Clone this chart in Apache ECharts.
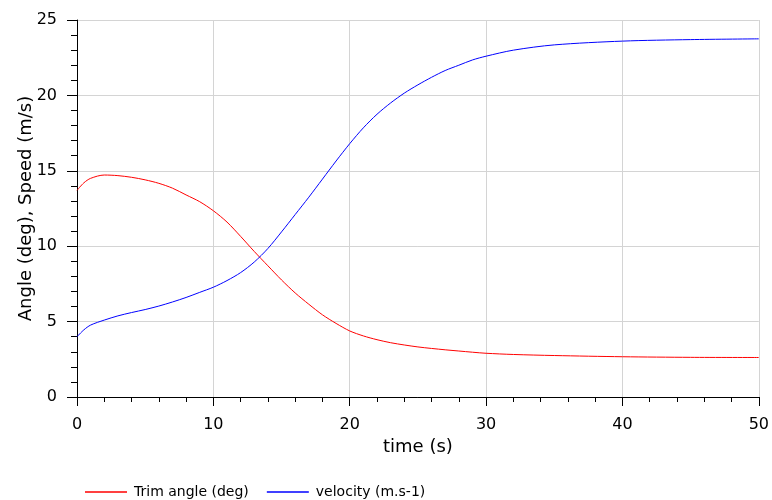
<!DOCTYPE html>
<html>
<head>
<meta charset="utf-8">
<script src="https://cdn.jsdelivr.net/npm/echarts@6/dist/echarts.min.js"></script>
<style>
  html, body { margin: 0; padding: 0; background: #fff; }
  #main { width: 772px; height: 500px; }
</style>
</head>
<body>
<div id="main"></div>
<script>
// time axis (s)
var time = [0, 0.5, 1, 2, 3, 4, 5, 6, 7, 8, 9, 10, 11, 12, 13, 14, 15, 16, 17, 18, 19, 20,
  21, 22, 23, 24, 25, 26, 27, 28, 29, 30, 32, 35, 40, 45, 50];
// Trim angle (deg)
var trimAngle = [13.7, 14.2, 14.5, 14.72, 14.68, 14.57, 14.4, 14.17, 13.85, 13.4, 12.95, 12.35,
  11.6, 10.65, 9.65, 8.7, 7.76, 6.9, 6.15, 5.45, 4.88, 4.38, 4.05, 3.8, 3.6, 3.45, 3.32,
  3.22, 3.13, 3.05, 2.97, 2.9, 2.82, 2.75, 2.67, 2.63, 2.62];
// velocity (m.s-1)
var velocity = [4.0, 4.45, 4.77, 5.1, 5.38, 5.6, 5.8, 6.03, 6.3, 6.6, 6.94, 7.28, 7.72, 8.25,
  8.95, 9.85, 10.95, 12.1, 13.25, 14.45, 15.65, 16.8, 17.85, 18.75, 19.5, 20.15, 20.7,
  21.2, 21.65, 22.0, 22.35, 22.6, 23.0, 23.35, 23.6, 23.7, 23.75];
var xTicks = [0, 10, 20, 30, 40, 50];
var yTicks = [0, 5, 10, 15, 20, 25];

function pairs(xs, ys) {
  return xs.map(function (x, i) { return [x, ys[i]]; });
}

var font = 'DejaVu Sans';
var chart = echarts.init(document.getElementById('main'));

chart.setOption({
  animation: false,
  textStyle: { fontFamily: font },
  grid: { left: 77, right: 10, top: 20, bottom: 103, containLabel: false },
  legend: {
    left: 80,
    top: 480,
    icon: 'rect',
    itemWidth: 42,
    itemHeight: 1.5,
    itemGap: 18,
    textStyle: { fontSize: 14, color: '#000', fontFamily: font, padding: [0, 0, 0, 2] },
    data: ['Trim angle (deg)', 'velocity (m.s-1)']
  },
  xAxis: {
    type: 'value',
    min: xTicks[0],
    max: xTicks[xTicks.length - 1],
    interval: 10,
    name: 'time (s)',
    nameLocation: 'middle',
    nameGap: 41,
    nameMoveOverlap: false,
    nameTextStyle: { fontSize: 18, color: '#000' },
    axisLine: { show: true, lineStyle: { color: '#000', width: 1 } },
    axisTick: { show: true, length: 9, lineStyle: { color: '#000' } },
    minorTick: { show: true, splitNumber: 5, length: 5, lineStyle: { color: '#000' } },
    axisLabel: { fontSize: 16, color: '#000', margin: 20 },
    splitLine: { show: true, lineStyle: { color: '#d4d4d4', width: 1 } }
  },
  yAxis: {
    type: 'value',
    min: yTicks[0],
    max: yTicks[yTicks.length - 1],
    interval: 5,
    name: 'Angle (deg), Speed (m/s)',
    nameLocation: 'middle',
    nameGap: 42,
    nameMoveOverlap: false,
    nameTextStyle: { fontSize: 18, color: '#000' },
    axisLine: { show: true, lineStyle: { color: '#000', width: 1 } },
    axisTick: { show: true, length: 10, lineStyle: { color: '#000' } },
    minorTick: { show: true, splitNumber: 5, length: 6, lineStyle: { color: '#000' } },
    axisLabel: { fontSize: 16, color: '#000', margin: 20 },
    splitLine: { show: true, lineStyle: { color: '#d4d4d4', width: 1 } }
  },
  series: [
    {
      name: 'Trim angle (deg)',
      type: 'line',
      data: pairs(time, trimAngle),
      showSymbol: false,
      symbol: 'none',
      smooth: 0.3,
      lineStyle: { color: '#ff0000', width: 1 },
      itemStyle: { color: '#ff0000' }
    },
    {
      name: 'velocity (m.s-1)',
      type: 'line',
      data: pairs(time, velocity),
      showSymbol: false,
      symbol: 'none',
      smooth: 0.3,
      lineStyle: { color: '#0000ff', width: 1 },
      itemStyle: { color: '#0000ff' }
    }
  ]
});
</script>
</body>
</html>
